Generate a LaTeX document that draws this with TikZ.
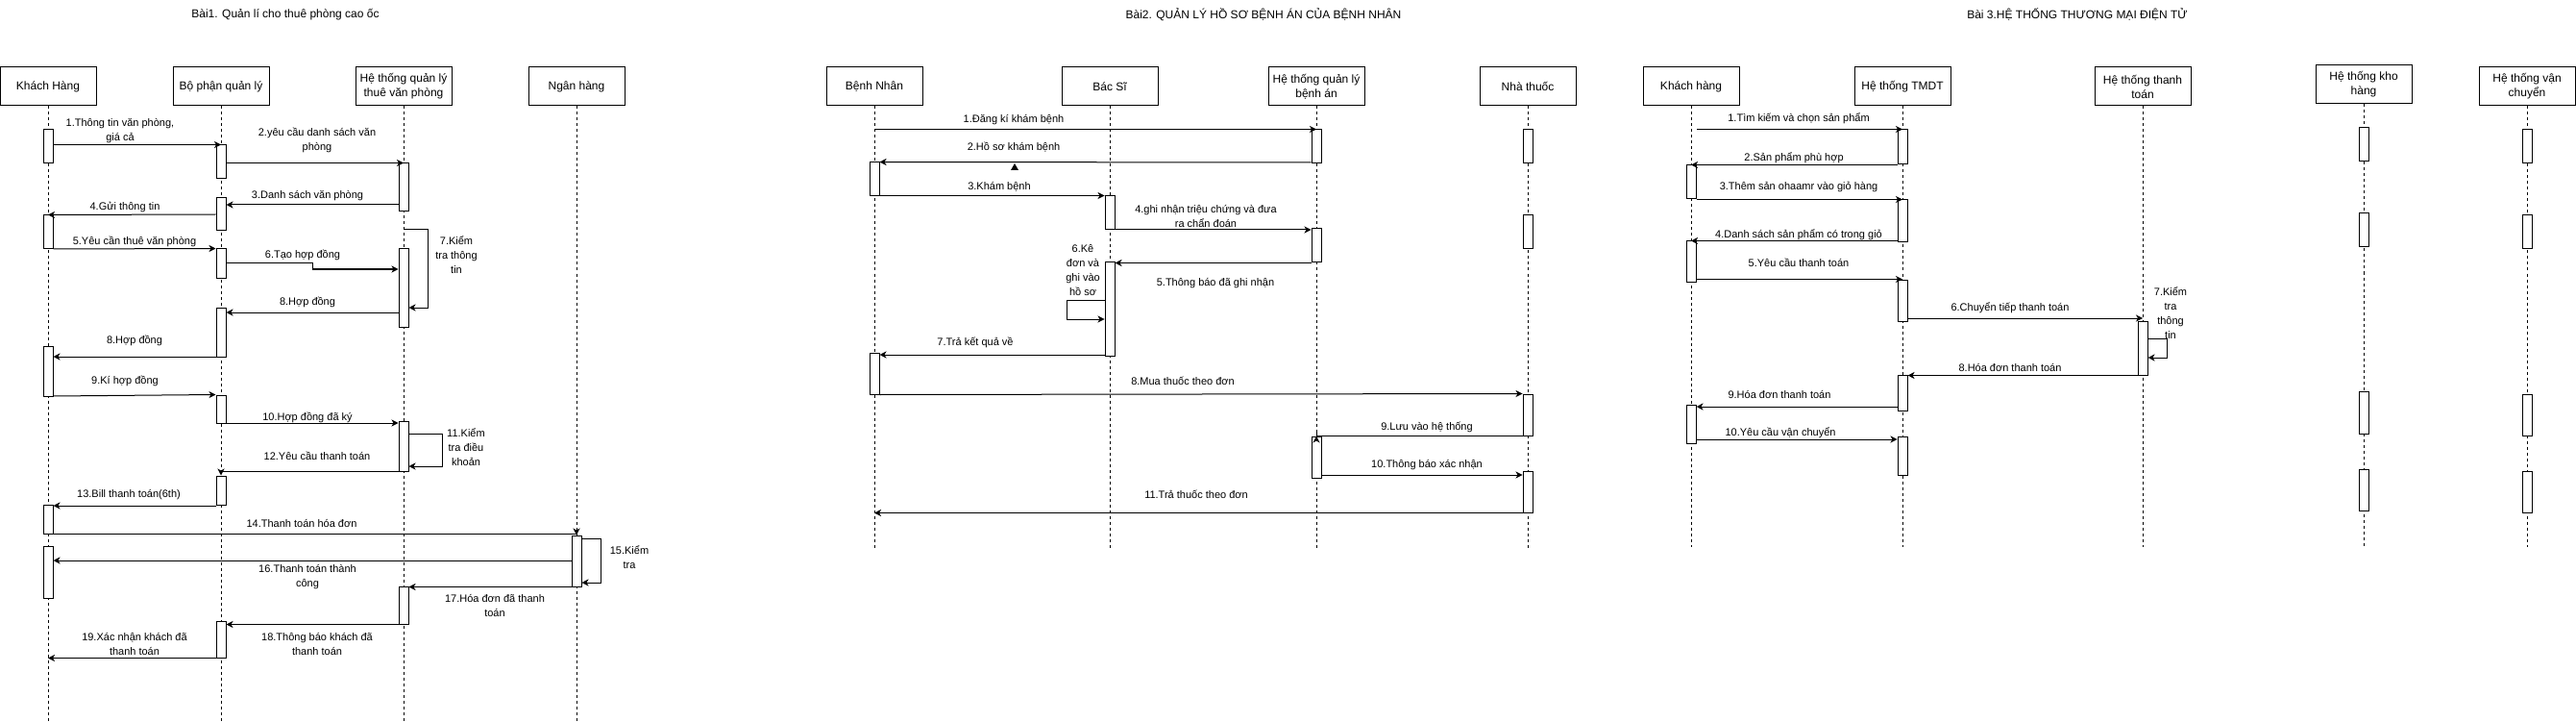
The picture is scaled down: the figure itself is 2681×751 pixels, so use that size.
\documentclass[tikz,border=0pt]{standalone}
\usepackage{fontspec}
\setmainfont{Liberation Sans}
\usetikzlibrary{arrows.meta}
\tikzset{
  actor/.style={draw,line width=1pt,minimum width=100pt,minimum height=40pt,align=center,inner sep=1pt,font=\fontsize{12}{15}\selectfont},
  life/.style={line width=1pt,dash pattern=on 3pt off 3pt},
  actbar/.style={draw,fill=white,line width=1pt,minimum width=10pt,inner sep=0pt},
  msg/.style={line width=1pt,-{Stealth[length=7pt,width=7pt,inset=2pt]}},
  lbl/.style={font=\fontsize{11}{15}\selectfont,align=center,inner sep=0pt},
  ttl/.style={font=\fontsize{12}{15}\selectfont,inner sep=0pt}
}
% bar name, x, top, bottom
\newcommand{\actbar}[4]{\node[actbar,minimum height={#4-#3}] (#1) at (#2,{(#3+#4)/2}) {};}
\begin{document}
\begin{tikzpicture}[x=1pt,y=-1pt]
\useasboundingbox (0,0) rectangle (2681,751);
\fill[white] (0,0) rectangle (2681,751);
%Bai 1
\node[ttl] (t1) at (297,15) {Bài1. Quản lí cho thuê phòng cao ốc};
\node[actor] (kh) at (50,90) {Khách Hàng};
\node[actor] (bp) at (230,90) {Bộ phận quản lý};
\node[actor] (ht) at (420,90) {Hệ thống quản lý\\thuê văn phòng};
\node[actor] (nh) at (600,90) {Ngân hàng};
\foreach \p in {kh,bp,ht,nh} \draw[life] (\p.south) -- ++(0,640);
\actbar{kh1}{50}{135}{170}
\actbar{kh2}{50}{224}{259}
\actbar{kh3}{50}{360}{412}
\actbar{kh4}{50}{525}{555}
\actbar{kh5}{50}{568}{622}
\actbar{bp1}{230}{151}{186}
\actbar{bp2}{230}{206}{240}
\actbar{bp3}{230}{259}{289}
\actbar{bp4}{230}{320}{371}
\actbar{bp5}{230}{411}{440}
\actbar{bp6}{230}{495}{525}
\actbar{bp7}{230}{646}{684}
\actbar{ht1}{420}{170}{220}
\actbar{ht2}{420}{259}{340}
\actbar{ht3}{420}{438}{490}
\actbar{ht4}{420}{610}{649}
\actbar{nh1}{600}{557}{610}
%Messages
\draw[msg] (kh1.east |- bp1.north) -- (bp1.north);
\draw[msg] (bp1.east |- ht1.north) -- (ht1.north);
\draw[msg] (ht1.west |- 0,213) -- (bp2.east |- 0,213);
\draw[msg] (bp2.west |- 0,223) -- (kh2.north);
\draw[msg] (kh2.east |- 0,259) -- (bp3.north west);
\draw[msg] (bp3.east |- 0,274) -- (325,274) -- (325,280) -- (ht2.west |- 0,280);
\draw[msg] (ht2.north |- 0,239) -| (445,320) -- (ht2.east |- 0,320);
\draw[msg] (ht2.west |- 0,325) -- (bp4.east |- 0,325);
\draw[msg] (bp4.west |- 0,371) -- (kh3.east |- 0,371);
\draw[msg] (kh3.east |- 0,412) -- (bp5.north west);
\draw[msg] (bp5.east |- 0,440) -- (ht3.west |- 0,440);
\draw[msg] (ht3.east |- 0,451) -| (460,485) -- (ht3.east |- 0,485);
\draw[msg] (ht3.west |- 0,490) -| (bp6.north);
\draw[msg] (bp6.west |- 0,526) -- (kh4.east |- 0,526);
\draw[msg] (kh4.south west) -| (nh1.north);
\draw[msg] (nh1.east |- 0,560) -| (625,606) -- (nh1.east |- 0,606);
\draw[msg] (nh1.west |- 0,583) -- (kh5.east |- 0,583);
\draw[msg] (nh1.south west) -- (ht4.east |- nh1.south);
\draw[msg] (ht4.south) -- (bp7.east |- ht4.south);
\draw[msg] (bp7.south west) -- (kh.south |- bp7.south);
%Text
\node[lbl] (a1) at (125,136) {1.Thông tin văn phòng,\\giá cả};
\node[lbl] (a2) at (330,146) {2.yêu cầu danh sách văn\\phòng};
\node[lbl] (a3) at (320,204) {3.Danh sách văn phòng};
\node[lbl] (a4) at (130,215) {4.Gửi thông tin};
\node[lbl] (a5) at (140,251) {5.Yêu cần thuê văn phòng};
\node[lbl] (a6) at (315,265) {6.Tạo hợp đồng};
\node[lbl] (a7) at (475,265) {7.Kiểm\\tra thông\\tin};
\node[lbl] (a8) at (320,314) {8.Hợp đồng};
\node[lbl] (a8b) at (140,354) {8.Hợp đồng};
\node[lbl] (a9) at (130,396) {9.Kí hợp đồng};
\node[lbl] (a10) at (320,434) {10.Hợp đồng đã ký};
\node[lbl] (a11) at (485,465) {11.Kiểm\\tra điều\\khoản};
\node[lbl] (a12) at (330,474) {12.Yêu cầu thanh toán};
\node[lbl] (a13) at (134,515) {13.Bill thanh toán(6th)};
\node[lbl] (a14) at (314,544) {14.Thanh toán hóa đơn};
\node[lbl] (a15) at (655,580) {15.Kiểm\\tra};
\node[lbl] (a16) at (320,600) {16.Thanh toán thành\\công};
\node[lbl] (a17) at (515,630) {17.Hóa đơn đã thanh\\toán};
\node[lbl] (a18) at (330,670) {18.Thông báo khách đã\\thanh toán};
\node[lbl] (a19) at (140,670) {19.Xác nhận khách đã\\thanh toán};
%Bai 2
\node[ttl] (t2) at (1315,15) {Bài2. QUẢN LÝ HỒ SƠ BỆNH ÁN CỦA BỆNH NHÂN};
\node[actor] (bn) at (910,90) {Bệnh Nhân};
\node[actor] (bs) at (1155,90) {Bác Sĩ};
\node[actor] (hs) at (1370,90) {Hệ thống quản lý\\bệnh án};
\node[actor] (nt) at (1590,90) {Nhà thuốc};
\foreach \p in {bn,bs,hs,nt} \draw[life] (\p.south) -- ++(0,459);
\actbar{bn1}{910}{169}{204}
\actbar{bn2}{910}{367}{410}
\actbar{bs1}{1155}{204}{239}
\actbar{bs2}{1155}{273}{370}
\actbar{hs1}{1370}{135}{170}
\actbar{hs2}{1370}{238}{273}
\actbar{hs3}{1370}{454}{497}
\actbar{nt1}{1590}{135}{170}
\actbar{nt2}{1590}{224}{259}
\actbar{nt3}{1590}{410}{453}
\actbar{nt4}{1590}{490}{533}
%Messages
\draw[msg] (bn.south |- hs1.north) -- (hs1.north);
\draw[msg] (hs1.west |- 0,169) -- (bn1.north east);
\fill (1056,170) -- (1052,177) -- (1060,177) -- cycle;
\draw[msg] (bn1.east |- bs1.north) -- (bs1.north west);
\draw[msg] (bs1.east |- 0,239) -- (hs2.west |- 0,239);
\draw[msg] (hs2.south west) -- (bs2.east |- hs2.south);
\draw[msg] (bs2.west |- 0,312) -| (1110,332) -- (bs2.west |- 0,332);
\draw[msg] (bs2.west |- 0,369) -- (bn2.east |- 0,369);
\draw[msg] (bn2.south east) -- (nt3.north west);
\draw[msg] (nt3.south west) -| (hs3.north);
\draw[msg] (hs3.east |- 0,494) -- (nt4.west |- 0,494);
\draw[msg] (nt4.south west) -- (bn.south |- nt4.south);
%Text
\node[lbl] (b1) at (1055,125) {1.Đăng kí khám bệnh};
\node[lbl] (b2) at (1055,153) {2.Hồ sơ khám bệnh};
\node[lbl] (b3) at (1040,194) {3.Khám bệnh};
\node[lbl] (b4) at (1255,225) {4.ghi nhận triệu chứng và đưa\\ra chẩn đoán};
\node[lbl] (b5) at (1265,295) {5.Thông báo đã ghi nhận};
\node[lbl] (b6) at (1127,281) {6.Kê\\đơn và\\ghi vào\\hồ sơ};
\node[lbl] (b7) at (1015,356) {7.Trả kết quả về};
\node[lbl] (b8) at (1231,396) {8.Mua thuốc theo đơn};
\node[lbl] (b9) at (1485,444) {9.Lưu vào hệ thống};
\node[lbl] (b10) at (1485,484) {10.Thông báo xác nhận};
\node[lbl] (b11) at (1245,514) {11.Trả thuốc theo đơn};
%Bai 3
\node[ttl] (t3) at (2162,15) {Bài 3.HỆ THỐNG THƯƠNG MẠI ĐIỆN TỬ};
\node[actor] (kc) at (1760,90) {Khách hàng};
\node[actor] (tm) at (1980,90) {Hệ thống TMDT};
\node[actor] (tt) at (2230,90) {Hệ thống thanh\\toán};
\node[actor] (kho) at (2460,88) {Hệ thống kho\\hàng};
\node[actor] (vc) at (2630,90) {Hệ thống vận\\chuyển};
\foreach \p in {kc,tm,tt,kho,vc} \draw[life] (\p.south) -- (\p.south |- 0,569);
\actbar{kc1}{1760}{172}{207}
\actbar{kc2}{1760}{251}{293}
\actbar{kc3}{1760}{421}{461}
\actbar{tm1}{1980}{135}{171}
\actbar{tm2}{1980}{208}{252}
\actbar{tm3}{1980}{291}{334}
\actbar{tm4}{1980}{390}{427}
\actbar{tm5}{1980}{454}{494}
\actbar{tt1}{2230}{334}{390}
\actbar{kho1}{2460}{133}{168}
\actbar{kho2}{2460}{222}{257}
\actbar{kho3}{2460}{407}{451}
\actbar{kho4}{2460}{488}{531}
\actbar{vc1}{2630}{135}{170}
\actbar{vc2}{2630}{224}{259}
\actbar{vc3}{2630}{410}{453}
\actbar{vc4}{2630}{490}{533}
%Messages
\draw[msg] ([xshift=6pt]kc.south |- tm1.north) -- (tm1.north);
\draw[msg] (tm1.west |- kc1.north) -- (kc1.north);
\draw[msg] (kc1.east |- tm2.north) -- (tm2.north);
\draw[msg] (tm2.west |- kc2.north) -- (kc2.north);
\draw[msg] (kc2.east |- tm3.north) -- (tm3.north);
\draw[msg] (tm3.east |- 0,331) -- (tt1.north |- 0,331);
\draw[msg] (tt1.east |- 0,352) -| (2255,372) -- (tt1.east |- 0,372);
\draw[msg] (tt1.south west) -- (tm4.east |- tt1.south);
\draw[msg] (tm4.west |- 0,423) -- (kc3.east |- 0,423);
\draw[msg] (kc3.east |- 0,457) -- (tm5.west |- 0,457);
%Text
\node[lbl] (c1) at (1872,123) {1.Tìm kiếm và chọn sản phẩm};
\node[lbl] (c2) at (1867,164) {2.Sản phẩm phù hợp};
\node[lbl] (c3) at (1872,194) {3.Thêm sản ohaamr vào giỏ hàng};
\node[lbl] (c4) at (1872,244) {4.Danh sách sản phẩm có trong giỏ};
\node[lbl] (c5) at (1872,273) {5.Yêu cầu thanh toán};
\node[lbl] (c6) at (2092,320) {6.Chuyển tiếp thanh toán};
\node[lbl] (c7) at (2259,326) {7.Kiểm\\tra\\thông\\tin};
\node[lbl] (c8) at (2092,383) {8.Hóa đơn thanh toán};
\node[lbl] (c9) at (1852,411) {9.Hóa đơn thanh toán};
\node[lbl] (c10) at (1853,450) {10.Yêu cầu vận chuyển};
\end{tikzpicture}
\end{document}
